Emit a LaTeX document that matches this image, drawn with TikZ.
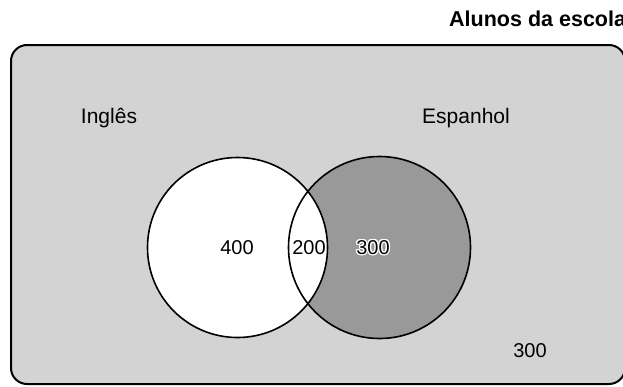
\documentclass[tikz,border=0pt]{standalone}
\usepackage{fontspec}
\setmainfont{Liberation Sans}
\usepackage{contour}
\contourlength{1.2pt}
\definecolor{fundo}{HTML}{D3D3D3}
\definecolor{escuro}{HTML}{999999}
\tikzset{
  rotulo/.style={font=\fontsize{20}{24}\selectfont, inner sep=0pt},
  conjunto/.style={draw=black, line width=1.6pt},
}
\begin{document}
\begin{tikzpicture}[x=1pt, y=-1pt]
      \useasboundingbox (0,0) rectangle (623,386);

      % Universo: alunos da escola
      \draw[line width=2pt, fill=fundo, rounded corners=16pt] (11,45) rectangle (625,384);
      \node[rotulo, font=\bfseries\fontsize{21.5}{24}\selectfont, anchor=base west] (titulo) at (449,26) {Alunos da escola};

      % Conjuntos
      \coordinate (cI) at (237.5,247.5);
      \coordinate (cE) at (379.5,247.5);
      \fill[escuro] (cE) circle (91);
      \fill[white] (cI) circle (90);
      \draw[conjunto] (cI) circle (90);
      \draw[conjunto] (cE) circle (91);

      % Nomes dos conjuntos
      \node[rotulo, font=\fontsize{21}{24}\selectfont, anchor=base] (ingles) at (109,123) {Inglês};
      \node[rotulo, font=\fontsize{21}{24}\selectfont, anchor=base] (espanhol) at (466,123) {Espanhol};

      % Quantidades
      \node[rotulo] (soI) at (237,248) {400};
      \node[rotulo] (ambos) at (309,248) {200};
      \node[rotulo] (soE) at (373,248) {\contour{white}{300}};
      \node[rotulo] (nenhum) at (530,351) {300};
    \end{tikzpicture}
\end{document}
